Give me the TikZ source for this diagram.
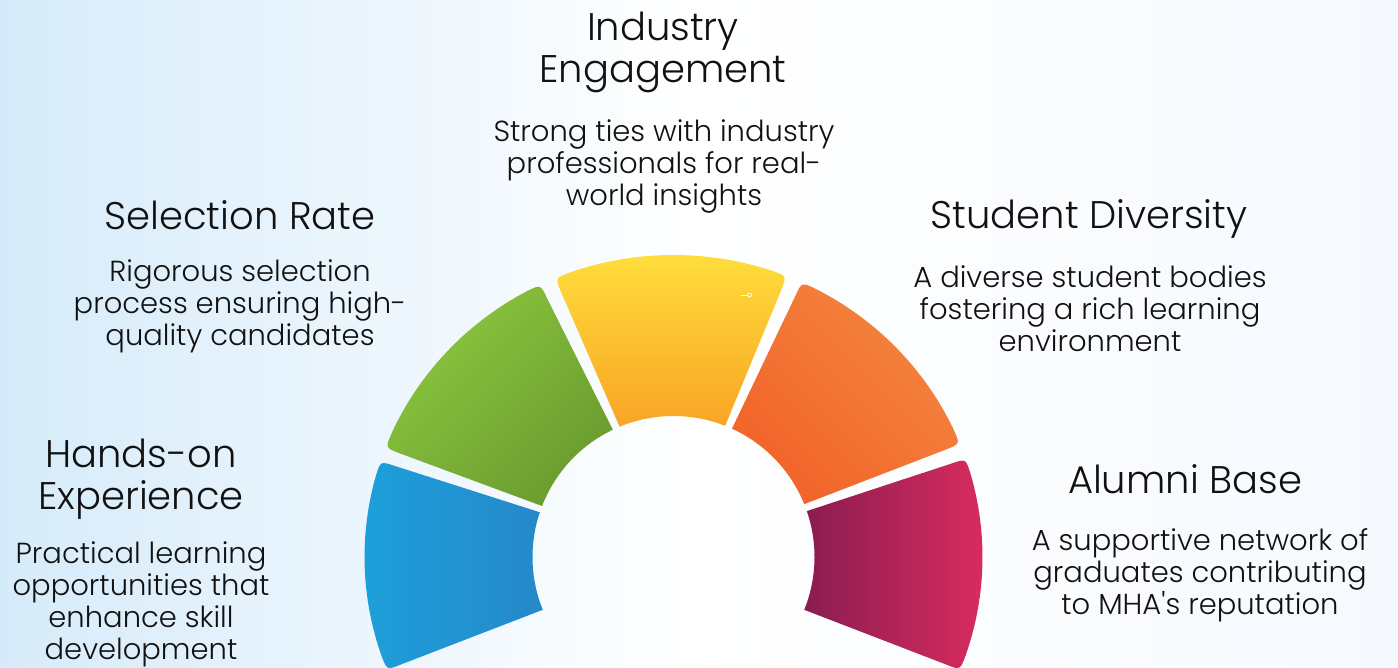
\documentclass[tikz,border=0pt]{standalone}
\usepackage{fontspec}
\setmainfont{Poppins Light}[Ligatures=TeXOff]
\definecolor{bgL}{HTML}{D6EBFA}
\definecolor{bgR}{HTML}{F5F9FE}
\definecolor{magL}{HTML}{8A1C50}
\definecolor{magR}{HTML}{DA2C5F}
\definecolor{bluL}{HTML}{1DA0DB}
\definecolor{bluR}{HTML}{2588C9}
\definecolor{grnL}{HTML}{8CC63F}
\definecolor{grnD}{HTML}{6A9C2F}
\definecolor{yelT}{HTML}{FFDF3C}
\definecolor{yelB}{HTML}{F9A425}
\definecolor{orgL}{HTML}{F3863F}
\definecolor{orgD}{HTML}{F2632A}
\definecolor{txt}{HTML}{111111}
\newcommand{\fanseg}[3]{%
  \pgfmathsetmacro{\aA}{#1+2.8}%
  \pgfmathsetmacro{\aB}{#2-2.8}%
  \path[#3] ({141*cos(#1)},{141*sin(#1)}) -- ({294*cos(#1)},{287*sin(#1)})
    .. controls ({309*cos(#1)},{302*sin(#1)}) .. ({309*cos(\aA)},{302*sin(\aA)})
    arc[start angle=\aA, end angle=\aB, x radius=309, y radius=302]
    .. controls ({309*cos(#2)},{302*sin(#2)}) .. ({294*cos(#2)},{287*sin(#2)})
    -- ({141*cos(#2)},{141*sin(#2)})
    arc[start angle=#2, end angle=#1, radius=141] -- cycle;}
\tikzset{
  title/.style={text=txt, align=center, font=\fontsize{38.5}{42}\selectfont},
  body/.style={text=txt, align=center, font=\fontsize{29}{32}\selectfont},
}
\begin{document}
\begin{tikzpicture}[x=1pt,y=1pt]
\useasboundingbox (0,0) rectangle (1398,668);
\shade[left color=bgL, right color=bgR, middle color=white] (0,0) rectangle (1398,668);
\begin{scope}[shift={(673.5,111)}]
  \fanseg{-22}{19}{left color=magL, right color=magR}
  \fanseg{22}{65.5}{top color=orgL, bottom color=orgD, shading angle=-45}
  \fanseg{68.5}{112.5}{top color=yelT, bottom color=yelB}
  \fanseg{115.5}{158.8}{top color=grnL, bottom color=grnD, shading angle=45}
  \fanseg{161.5}{202}{left color=bluL, right color=bluR}
\end{scope}
\draw[white, line width=0.8pt] (741,373) -- (747.5,373);
\draw[white, line width=0.7pt] (749.5,373) circle[radius=2];
\node[title] (t1) at (663,616) {Industry\\Engagement};
\node[body] (b1) at (664,502) {Strong ties with industry\\professionals for real-\\world insights};
\node[title] (t2) at (240,453) {Selection Rate};
\node[body] (b2) at (240,362) {Rigorous selection\\process ensuring high-\\quality candidates};
\node[title] (t3) at (1089,449) {Student Diversity};
\node[body] (b3) at (1090,359) {A diverse student bodies\\fostering a rich learning\\environment};
\node[title] (t4) at (141,189) {Hands-on\\Experience};
\node[body] (b4) at (141,64) {Practical learning\\opportunities that\\enhance skill\\development};
\node[title] (t5) at (1185,189) {Alumni Base};
\node[body] (b5) at (1200,93) {A supportive network of\\graduates contributing\\to MHA's reputation};
\end{tikzpicture}
\end{document}
